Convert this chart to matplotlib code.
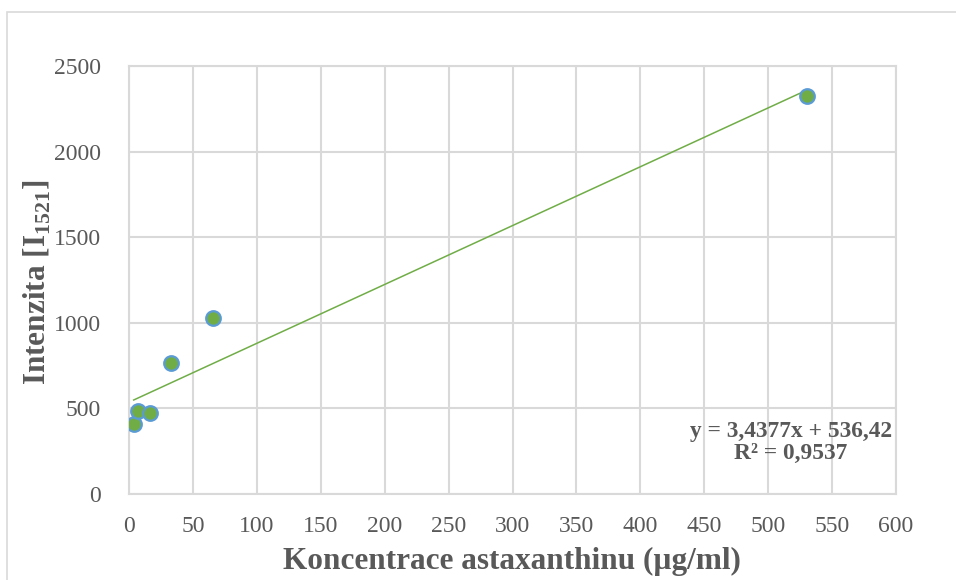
import matplotlib
matplotlib.use("Agg")
import matplotlib.pyplot as plt
from matplotlib.patches import Rectangle
import numpy as np

# data
konc = [3.7, 7.4, 16.3, 33.0, 65.5, 530.0]
intenzita = [407, 485, 471, 765, 1027, 2326]
slope = 3.4377
intercept = 536.42
rovnice = "y = 3,4377x + 536,42"
r2_text = "R² = 0,9537"
x_ticks = [0, 50, 100, 150, 200, 250, 300, 350, 400, 450, 500, 550, 600]
y_ticks = [0, 500, 1000, 1500, 2000, 2500]

plt.rcParams['font.family'] = ['Liberation Serif', 'DejaVu Serif']
plt.rcParams['mathtext.fontset'] = 'custom'
plt.rcParams['mathtext.rm'] = 'Liberation Serif'
plt.rcParams['mathtext.bf'] = 'Liberation Serif:bold'

text_col = "#595959"
grid_col = "#d9d9d9"

fig = plt.figure(figsize=(9.56, 5.8), dpi=100)
W, H = 956, 580

# outer chart frame, only top and left edges fall inside the picture
fig.patches.append(Rectangle((7 / W, -1), 3, 2 - 12 / H, transform=fig.transFigure,
                             fill=False, edgecolor=grid_col, linewidth=1.2))

ax = fig.add_axes([129 / W, 1 - 494 / H, (896 - 129) / W, (494 - 66) / H])

ax.set_xlim(0, 600)
ax.set_ylim(0, 2500)
ax.set_xticks(x_ticks)
ax.set_yticks(y_ticks)
ax.grid(True, color=grid_col, linewidth=1.5)
ax.set_axisbelow(True)
for s in ax.spines.values():
    s.set_color(grid_col)
    s.set_linewidth(1.5)
ax.tick_params(length=0, labelsize=17, colors=text_col)
ax.tick_params(axis="y", pad=20)
ax.tick_params(axis="x", pad=16)

# trendline from the fitted equation
xl = np.array([min(konc), max(konc)])
ax.plot(xl, slope * xl + intercept, color="#70AD47", linewidth=1.1, zorder=3)

ax.plot(konc, intenzita, linestyle="none", marker="o", markersize=10.5,
        markerfacecolor="#70AD47", markeredgecolor="#5B9BD5", markeredgewidth=1.6,
        zorder=4)

ax.text(791 / W, 1 - 431 / H, rovnice, transform=fig.transFigure, ha="center", va="center",
        fontsize=16.8, fontweight="bold", color=text_col)
ax.text(791 / W, 1 - 453 / H, r2_text, transform=fig.transFigure, ha="center", va="center",
        fontsize=16.8, fontweight="bold", color=text_col)

fig.text(512 / W, 1 - 561 / H, "Koncentrace astaxanthinu (µg/ml)", ha="center", va="center",
         fontsize=22.5, fontweight="bold", color=text_col)
fig.text(37 / W, 1 - 282 / H, r"Intenzita [I$_{\mathbf{1521}}$]", ha="center", va="center",
         rotation=90, fontsize=22.5, fontweight="bold", color=text_col)

plt.savefig("out.png", dpi=100)
plt.close()
